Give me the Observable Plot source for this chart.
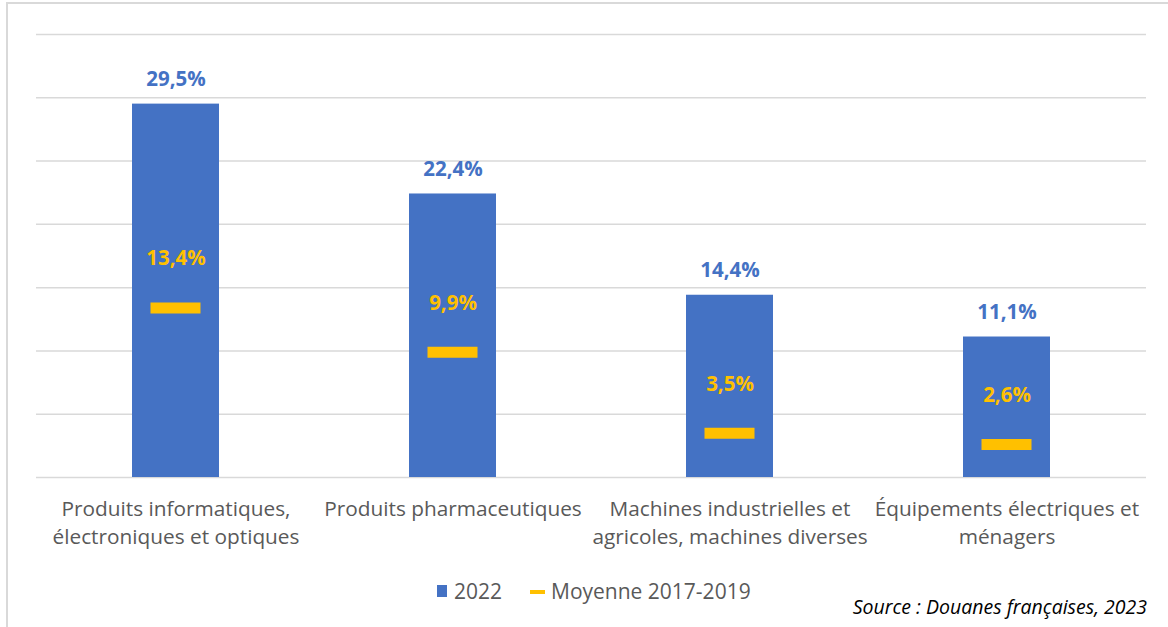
<!DOCTYPE html>
<html>
<head>
<meta charset="utf-8">
<script src="https://cdn.jsdelivr.net/npm/d3@7"></script>
<script src="https://cdn.jsdelivr.net/npm/@observablehq/plot@0.6"></script>
<style>
  html, body { margin: 0; padding: 0; background: #fff; width: 1168px; height: 627px; overflow: hidden; position: relative; font-family: "Open Sans", Lato, sans-serif; }
  #frame { position: absolute; left: 6px; top: 2px; width: 1200px; height: 700px; border: 2px solid #d9d9d9; box-sizing: border-box; }
  #chart { position: absolute; left: 0; top: 0; }
  .lg { position: absolute; }
  .lgt { position: absolute; top: 577px; font-size: 21px; color: #595959; line-height: 28px; white-space: nowrap; }
  #source { position: absolute; right: 21px; top: 593px; font-size: 19.5px; font-style: italic; color: #000; white-space: nowrap; }
</style>
</head>
<body>
<div id="frame"></div>
<div id="chart"></div>
<div class="lg" style="left:437px;top:585px;width:10px;height:12px;background:#4472C4"></div>
<div class="lgt" style="left:454px">2022</div>
<div class="lg" style="left:530px;top:590px;width:15px;height:4px;background:#FFC000"></div>
<div class="lgt" style="left:551px">Moyenne 2017-2019</div>
<div id="source">Source : Douanes françaises, 2023</div>
<script>
const categories = [
  "Produits informatiques,\nélectroniques et optiques",
  "Produits pharmaceutiques",
  "Machines industrielles et\nagricoles, machines diverses",
  "Équipements électriques et\nménagers"
];
const values2022 = [29.5, 22.4, 14.4, 11.1];
const valuesAvg = [13.4, 9.9, 3.5, 2.6];
const gridTicks = [0, 5, 10, 15, 20, 25, 30, 35];

const data = categories.map((c, i) => ({cat: c, v: values2022[i], avg: valuesAvg[i]}));
const fmt = d => d.toFixed(1).replace(".", ",") + "%";

const chart = Plot.plot({
  width: 1168,
  height: 565,
  marginLeft: 36,
  marginRight: 22,
  marginTop: 34,
  marginBottom: 88,
  style: {fontFamily: "'Open Sans', Lato, sans-serif", background: "transparent"},
  x: {domain: categories, paddingInner: 0.686, paddingOuter: 0.343, axis: null},
  y: {domain: [0, 35], axis: null},
  marks: [
    Plot.ruleY(gridTicks, {stroke: "#d9d9d9", strokeWidth: 1.5}),
    Plot.barY(data, {x: "cat", y: "v", fill: "#4472C4"}),
    Plot.tickY(data, {x: "cat", y: "avg", stroke: "#FFC000", strokeWidth: 11, insetLeft: 18.5, insetRight: 18.5}),
    Plot.text(data, {x: "cat", y: "v", text: d => fmt(d.v), dy: -25, fill: "#4472C4", fontWeight: "bold", fontSize: 20.5}),
    Plot.text(data, {x: "cat", y: "avg", text: d => fmt(d.avg), dy: -49, fill: "#FFC000", fontWeight: "bold", fontSize: 20.5}),
    Plot.text(data, {x: "cat", y: 0, text: "cat", dy: 19, lineAnchor: "top", lineHeight: 1.34, fill: "#595959", fontSize: 20.8})
  ]
});
document.getElementById("chart").appendChild(chart);
</script>
</body>
</html>
